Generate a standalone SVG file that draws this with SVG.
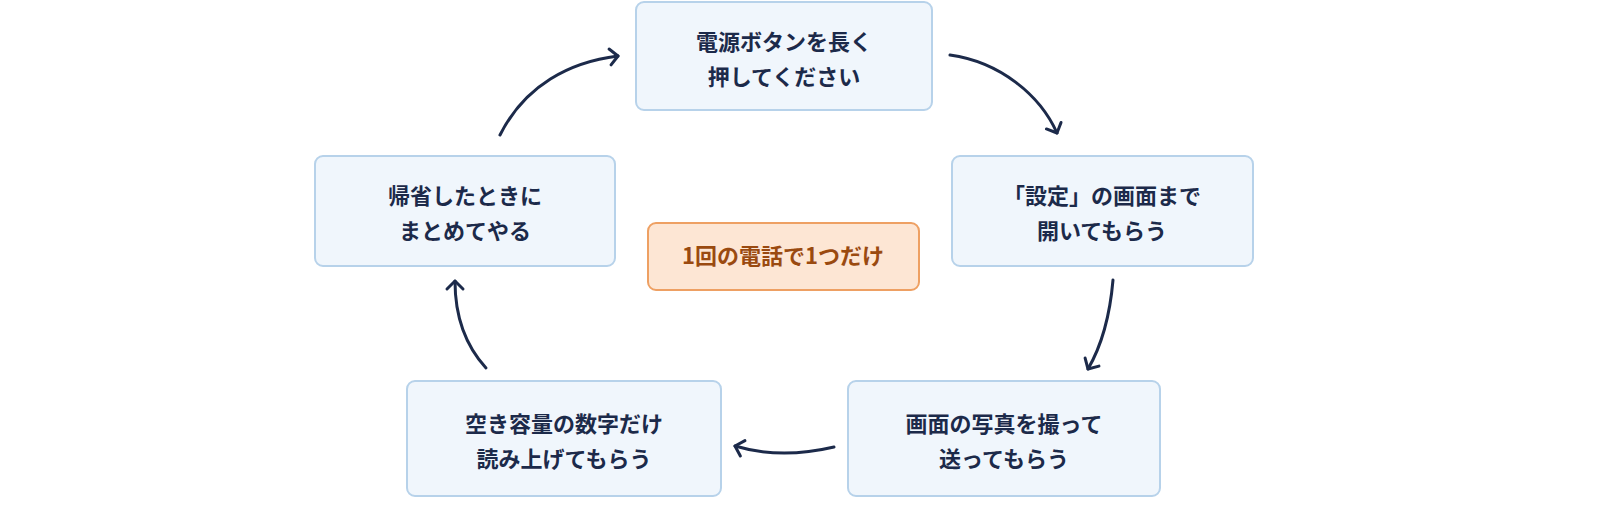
<svg xmlns="http://www.w3.org/2000/svg" width="1600" height="509" viewBox="0 0 1600 509">
<style>
.n rect{fill:#f0f6fc;stroke:#b7d2ea;stroke-width:2}
.n text{font-family:"Noto Sans CJK JP","Noto Sans",sans-serif;font-size:22px;font-weight:bold;fill:#1c2a4a;text-anchor:middle}
#center rect{fill:#fde6d4;stroke:#eea063}
#center text{fill:#9a4a10}
.c path{fill:none;stroke:#1c2a4a;stroke-width:3;stroke-linecap:round;marker-end:url(#a)}
</style>
<defs><marker id="a" viewBox="-2 -2 24 24" refX="16" refY="10" markerWidth="24" markerHeight="24" orient="auto" markerUnits="userSpaceOnUse"><path d="M8,2 L16,10 L8,18" fill="none" stroke="#1c2a4a" stroke-width="3" stroke-linecap="round" stroke-linejoin="round"/></marker></defs>
<rect width="1600" height="509" fill="#ffffff"/>
<g class="c">
<path d="M500,135 C525,85 570,62 618,56"/>
<path d="M950,55 C1000,62 1040,95 1057,133"/>
<path d="M1113,280 C1110,315 1102,345 1088,369"/>
<path d="M834,447 C800,455 765,455 735,446"/>
<path d="M486,368 C465,345 455,315 455,281"/>
</g>
<g id="top" class="n"><rect x="636" y="2" width="296" height="108" rx="8"/><text x="784" y="50">電源ボタンを長く</text><text x="784" y="85">押してください</text></g>
<g id="right" class="n"><rect x="952" y="156" width="301" height="110" rx="8"/><text x="1102" y="204">「設定」の画面まで</text><text x="1102" y="239">開いてもらう</text></g>
<g id="br" class="n"><rect x="848" y="381" width="312" height="115" rx="8"/><text x="1004" y="432">画面の写真を撮って</text><text x="1004" y="467">送ってもらう</text></g>
<g id="bl" class="n"><rect x="407" y="381" width="314" height="115" rx="8"/><text x="564" y="432">空き容量の数字だけ</text><text x="564" y="467">読み上げてもらう</text></g>
<g id="left" class="n"><rect x="315" y="156" width="300" height="110" rx="8"/><text x="465" y="204">帰省したときに</text><text x="465" y="239">まとめてやる</text></g>
<g id="center" class="n"><rect x="648" y="223" width="271" height="67" rx="8"/><text x="783" y="264">1回の電話で1つだけ</text></g>
</svg>
